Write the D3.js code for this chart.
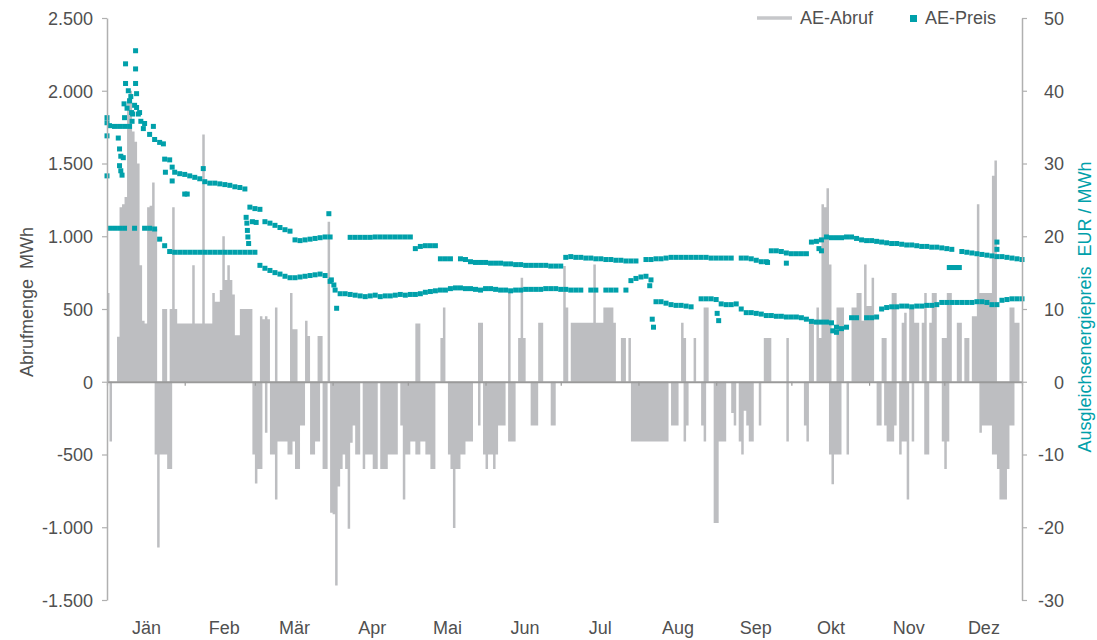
<!DOCTYPE html>
<html>
<head>
<meta charset="utf-8">
<script src="https://cdn.jsdelivr.net/npm/d3@7"></script>
<style>
body { margin: 0; background: #fff; }
svg { display: block; font-family: "Liberation Sans", Arial, sans-serif; }
text { fill: #505050; font-size: 18px; }
</style>
</head>
<body>
<svg width="1097" height="640"></svg>
<script>
const months = ["Jän","Feb","Mär","Apr","Mai","Jun","Jul","Aug","Sep","Okt","Nov","Dez"]
const leftTicks = [-1500,-1000,-500,0,500,1000,1500,2000,2500]
const rightTicks = [-30,-20,-10,0,10,20,30,40,50]

// AE-Abruf, höchster und tiefster Wert je Tag (MWh), ein Feld pro Monat
const abrufMax = [
  [610,0,0,0,310,1200,1220,1270,1950,2000,1720,1650,1500,800,420,400,1200,1210,1370,1050,0,0,500,500,0,500,1200,500,400,400,400],
  [400,400,400,800,400,400,400,1700,400,400,400,610,550,550,630,1000,700,800,700,600,320,320,500,500,500,500,500,0],
  [0,0,450,430,450,430,0,0,510,0,0,0,0,0,610,360,360,0,0,0,420,315,0,0,0,315,315,0,0,1100,0],
  [0,0,0,0,0,0,0,0,0,0,0,0,0,0,0,0,0,0,0,0,0,0,0,0,0,0,0,0,0,0],
  [0,0,0,400,400,0,0,0,0,0,0,0,0,300,510,0,0,0,0,0,0,0,0,0,0,0,0,0,405,405,0],
  [0,0,0,0,0,0,0,0,0,610,0,0,0,300,715,300,0,0,0,0,0,405,405,0,0,0,0,0,0,0],
  [0,795,510,0,405,405,405,405,405,405,405,405,405,805,405,405,405,510,510,510,510,405,0,0,300,300,0,300,0,0,0],
  [0,0,0,0,0,0,0,0,0,0,0,0,0,0,0,0,0,405,300,0,0,0,300,0,0,0,510,510,0,0,0],
  [0,0,0,0,0,0,0,0,0,0,0,0,0,0,0,0,0,0,0,300,300,300,0,0,0,0,0,0,300,0],
  [0,0,0,0,0,0,0,405,405,0,510,300,1220,1200,1330,805,0,0,510,510,510,0,0,0,510,510,610,610,420,805,520],
  [520,715,0,0,0,300,300,0,0,610,610,0,0,405,475,0,500,500,405,405,0,405,610,0,405,610,610,0,0,300],
  [300,610,610,0,0,405,405,0,300,300,0,450,450,1220,610,610,610,610,610,1415,1520,0,0,0,0,0,510,510,405,405,0]
]
const abrufMin = [
  [0,-410,0,0,0,0,0,0,0,0,0,0,0,0,0,0,0,0,0,-500,-1140,-500,-500,-500,-600,-600,0,0,0,0,0],
  [0,0,0,0,0,0,0,0,0,0,0,0,0,0,0,0,0,0,0,0,0,0,0,0,0,0,0,-500],
  [-700,-600,-600,0,-350,0,-500,-500,-810,-410,-410,-410,-410,-500,-500,-410,-600,-600,-300,-300,0,0,-500,-500,-410,-410,0,-600,-600,0,-900],
  [-910,-1400,-720,-600,-500,-600,-1010,-420,-300,-500,-500,0,-600,-500,-500,-500,-600,-600,0,-600,-600,-600,-500,-500,-500,-500,0,-300,-810,-500],
  [-500,-410,-410,-500,-500,-410,-410,-500,-500,-600,-600,0,0,0,0,0,-500,-600,-1005,-600,-600,-500,-500,-410,-410,-410,0,0,-300,0,-500],
  [-600,-500,-500,-600,-500,-300,-300,-300,0,-410,-410,-410,0,0,0,0,0,0,-300,-300,-300,0,0,0,0,0,-300,-300,0,0],
  [0,0,0,0,0,0,0,0,0,0,0,0,0,0,0,0,0,0,0,0,0,0,0,0,0,0,0,0,-410,-410,-410],
  [-410,-410,-410,-410,-410,-410,-410,-410,-410,-410,-410,-410,0,-300,-300,-300,0,0,-410,-300,0,0,0,0,0,-300,-410,0,0,0,-970],
  [-970,-410,-410,-410,0,0,-215,-300,0,-410,-500,-200,-300,-410,-410,0,0,-300,0,0,0,0,0,0,0,0,0,0,-410,0],
  [0,0,0,0,0,-300,-410,0,0,0,0,0,0,0,0,-500,-705,-500,-500,-500,0,0,-500,0,0,0,0,0,0,0,0],
  [0,0,0,-300,-300,0,-300,-410,-410,-410,-300,0,-500,-410,-410,-810,0,-410,0,0,0,0,-500,-500,0,0,0,0,0,-410],
  [-600,-410,0,0,0,0,0,0,0,0,0,0,0,0,-350,-300,-300,-300,-300,-500,-500,-600,-810,-810,-810,-600,-300,-300,0,0,0]
]

// AE-Preis (EUR/MWh), ein Wert je zwei Tage, obere und untere Preisreihe
const preisOben = [
  35.2,35.1,35.1,35.1,35.1,38.0,37.0,35.5,34.0,33.3,
  32.9,30.6,30.5,28.8,28.6,28.5,28.3,28.1,27.9,27.5,
  27.3,27.3,27.2,27.1,27.0,26.8,26.7,26.5,24.0,23.8,
  23.7,22.0,21.8,21.5,21.2,20.9,20.7,19.5,19.4,19.5,
  19.6,19.7,19.8,19.9,19.9,null,null,null,19.85,19.85,
  19.85,19.85,19.85,19.9,19.9,19.9,19.9,19.9,19.9,19.9,
  19.9,18.3,18.6,18.7,18.7,18.7,16.9,16.9,16.9,null,
  16.9,16.8,16.5,16.4,16.4,16.4,16.3,16.3,16.3,16.2,
  16.2,16.1,16.1,16.0,16.0,16.0,16.0,16.0,15.9,15.9,
  15.9,17.1,17.2,17.1,17.1,17.0,17.0,16.9,16.9,16.8,
  16.8,16.7,16.7,16.6,16.6,16.6,null,16.8,16.8,16.9,
  16.9,17.0,17.1,17.1,17.1,17.1,17.1,17.1,17.1,17.1,
  17.0,17.0,17.0,17.0,17.0,null,17.0,17.0,16.9,16.7,
  16.5,16.5,18.0,18.0,17.9,17.7,17.6,17.6,17.6,17.6,
  19.2,19.3,19.5,19.9,19.8,19.8,19.8,19.9,19.9,19.7,
  19.5,19.4,19.4,19.3,19.2,19.1,19.0,19.0,18.9,18.8,
  18.8,18.7,18.6,18.6,18.5,18.5,18.4,18.3,18.2,null,
  17.9,17.8,17.7,17.6,17.5,17.4,17.3,17.2,17.2,17.1,
  17.0,16.9,16.8
]
const preisUnten = [
  21.1,21.1,21.1,21.1,null,21.1,null,21.1,21.1,21.0,
  19.6,18.7,17.9,17.8,17.8,17.8,17.8,17.8,17.8,17.8,
  17.8,17.8,17.8,17.8,17.8,17.8,17.8,17.8,17.8,17.8,
  16.0,15.6,15.3,15.0,14.8,14.5,14.3,14.3,14.4,14.5,
  14.6,14.7,14.8,14.6,13.8,12.6,12.1,12.1,12.0,11.9,
  11.8,11.7,11.8,11.9,11.7,11.8,11.8,11.9,12.0,11.9,
  12.0,12.0,12.1,12.3,12.4,12.5,12.6,12.6,12.8,12.9,
  12.9,12.8,12.8,12.7,12.6,12.8,12.8,12.7,12.6,12.6,
  12.5,12.6,12.6,12.7,12.7,12.7,12.7,12.8,12.8,12.8,
  12.7,12.7,12.6,12.6,12.6,null,12.6,12.6,null,12.6,
  12.6,12.6,null,12.6,13.9,14.2,14.4,14.5,14.0,11.0,
  11.0,10.8,10.6,10.5,10.5,10.4,10.3,null,11.4,11.4,
  11.4,11.3,10.7,10.6,10.6,10.7,10.0,9.5,9.5,9.4,
  9.3,9.1,9.1,9.0,9.0,8.9,8.9,8.9,8.8,8.6,
  8.3,8.2,8.2,8.2,8.1,7.5,7.3,7.5,8.8,8.8,
  null,8.8,8.8,8.9,10.0,10.2,10.3,10.3,10.4,10.4,
  10.3,10.4,10.4,10.5,10.5,10.6,10.9,10.9,10.9,10.9,
  10.9,10.9,10.9,11.0,11.0,10.9,10.6,10.6,11.2,11.3,
  11.4,11.4,11.4
]
// einzelne Preispunkte abseits der Reihen: [Tag im Jahr, EUR/MWh]
const preisEinzeln = [
  [0,36.3],[0,35.6],[0,33.8],[0,28.3],[4.5,33.5],[5,32],[5.5,31],[5,29.7],[5.5,29],[6,28.4],
  [6.5,30.8],[7.4,43.7],[7.4,41],[6.8,38.2],[7,36.3],[8,37.6],[8.5,40],[9,38.6],[9.5,39.2],[9.8,37],
  [10,35.8],[10.2,36.8],[11.4,45.5],[11.4,43],[11.4,41],[11.8,39.6],[11.8,37.7],[12.5,36.8],[13.5,35.8],[14.5,34.8],
  [18.5,35.1],[22.5,32.7],[23.3,28.8],[26,29.5],[26,27.6],[31,25.8],[32,25.8],[38.4,29.3],
  [55.5,22.6],[55.8,21.8],[56,20.8],[56.2,19.9],[56.5,19],[58,22],[59.5,21.9],
  [88.5,23.1],[89.5,14],[90.5,13.3],[91.6,10.1],
  [216.5,13.2],[217.5,8.6],[218,7.5],[243.4,9.4],[244,8.4],
  [263.5,16.4],[271,16.3],[284,18.3],[285,18],[289.5,7],[291,6.8],
  [336,15.7],[337,15.7],[338,15.7],[339,15.7],[340,15.7],[355,19.2],[355,18.2]
]

const grau = "#bdbec1"
const teal = "#00a0aa"

const svg = d3.select("svg")

const start = Date.UTC(2015, 0, 1)
const dayDate = d => new Date(start + d * 864e5)

const x = d3.scaleUtc()
  .domain([dayDate(0), dayDate(365)])
  .range([107, 1022])

const yL = d3.scaleLinear()
  .domain([-1500, 2500])
  .range([600, 18])

const yR = d3.scaleLinear()
  .domain([-30, 50])
  .range([600, 18])

const de = d3.formatLocale({decimal: ",", thousands: ".", grouping: [3], currency: ["", " €"], minus: "-"})

// Tageswerte aus den Monatsfeldern
const abruf = []
abrufMax.forEach((m, mi) => {
  m.forEach((v, j) => {
    abruf.push({date: new Date(Date.UTC(2015, mi, j + 1)), max: v, min: abrufMin[mi][j]})
  })
})
abruf.push({date: dayDate(365), max: 0, min: 0})

const area = d3.area()
  .curve(d3.curveStepAfter)
  .x(d => x(d.date))
  .y0(d => yL(d.min))
  .y1(d => yL(d.max))

svg.append("path")
  .datum(abruf)
  .attr("fill", grau)
  .attr("d", area)

// Nulllinie mit Monatsstrichen
const zeroAxis = svg.append("g")
  .attr("transform", `translate(0,${yL(0)})`)
  .call(d3.axisBottom(x).ticks(d3.utcMonth.every(1)).tickSize(4).tickSizeOuter(0).tickFormat(""))
zeroAxis.select(".domain").attr("stroke", "#9a9a9a").attr("stroke-width", 2)
zeroAxis.selectAll(".tick line").attr("stroke", "#9a9a9a").attr("stroke-width", 1.2)

// Preispunkte
const punkte = []
preisOben.forEach((v, i) => { if (v != null) punkte.push([2 * i + 1, v]) })
preisUnten.forEach((v, i) => { if (v != null) punkte.push([2 * i + 1, v]) })
preisEinzeln.forEach(p => punkte.push(p))

svg.selectAll("rect.preis")
  .data(punkte)
  .enter().append("rect")
  .attr("class", "preis")
  .attr("x", d => x(dayDate(d[0])) - 2.5)
  .attr("y", d => yR(d[1]) - 2.5)
  .attr("width", 5)
  .attr("height", 5)
  .attr("fill", teal)

// Achsen
const leftAxis = svg.append("g")
  .attr("transform", "translate(107,0)")
  .call(d3.axisLeft(yL).tickValues(leftTicks).tickFormat(de.format(",")).tickSize(5).tickSizeOuter(0).tickPadding(9))

const rightAxis = svg.append("g")
  .attr("transform", "translate(1022,0)")
  .call(d3.axisRight(yR).tickValues(rightTicks).tickFormat(de.format(",")).tickSize(5).tickSizeOuter(0))

;[leftAxis, rightAxis].forEach(a => {
  a.attr("font-size", null).attr("font-family", null)
  a.select(".domain").attr("stroke", "#b0b0b0").attr("stroke-width", 1.5)
  a.selectAll(".tick line").attr("stroke", "#b0b0b0").attr("stroke-width", 1.2)
  a.selectAll(".tick text").attr("fill", null).attr("dy", "0.35em")
})
rightAxis.selectAll(".tick text")
  .attr("x", 42)
  .style("text-anchor", "end")

svg.selectAll("text.month")
  .data(months)
  .enter().append("text")
  .attr("class", "month")
  .attr("x", (d, i) => x(new Date(Date.UTC(2015, i, 16))) + 2)
  .attr("y", 634)
  .style("text-anchor", "middle")
  .text(d => d)

svg.append("text")
  .attr("transform", "translate(33,302) rotate(-90)")
  .style("text-anchor", "middle")
  .style("white-space", "pre")
  .text("Abrufmenge  MWh")

svg.append("text")
  .attr("transform", "translate(1091,307) rotate(-90)")
  .style("text-anchor", "middle")
  .style("white-space", "pre")
  .style("fill", teal)
  .text("Ausgleichsenergiepreis  EUR / MWh")

// Legende
const legend = svg.append("g")

legend.append("line")
  .attr("x1", 757).attr("x2", 792)
  .attr("y1", 18).attr("y2", 18)
  .attr("stroke", "#c6c7ca")
  .attr("stroke-width", 3.5)

legend.append("text")
  .attr("x", 800)
  .attr("y", 24)
  .text("AE-Abruf")

legend.append("rect")
  .attr("x", 910).attr("y", 15)
  .attr("width", 7).attr("height", 7)
  .attr("fill", teal)

legend.append("text")
  .attr("x", 925)
  .attr("y", 24)
  .text("AE-Preis")
</script>
</body>
</html>
